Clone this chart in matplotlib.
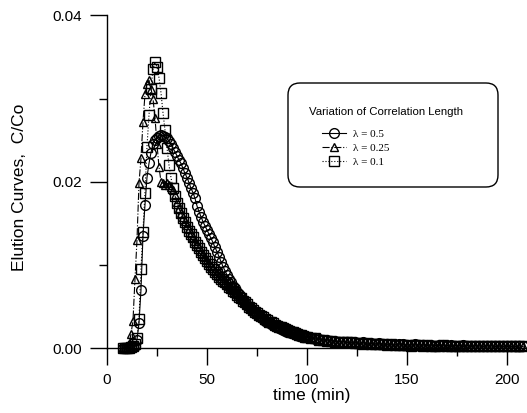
import matplotlib
matplotlib.use("Agg")
import matplotlib.pyplot as plt
from matplotlib.patches import FancyBboxPatch
from matplotlib.transforms import IdentityTransform

plt.rcParams['font.family'] = ['Liberation Sans', 'DejaVu Sans']

# sample times (min): 1 min steps up to 100, 2 min steps after
time_min = list(range(8, 101)) + list(range(102, 209, 2))

# lambda = 0.5 (circles)
conc_05 = [
    0.0, 0.0,
    0.0, 0.0, 0.0, 0.0001, 0.0003, 0.0010, 0.0030, 0.0070, 0.0135, 0.0172,
    0.0205, 0.0222, 0.0235, 0.0245, 0.0250, 0.0253, 0.0255, 0.0256, 0.0255, 0.0254,
    0.0252, 0.0249, 0.0245, 0.0240, 0.0236, 0.0231, 0.0226, 0.0222, 0.0216, 0.0210,
    0.0205,
    0.0199, 0.0192, 0.0187, 0.0180, 0.0171, 0.0164, 0.0158, 0.0152, 0.0147, 0.0142,
    0.0137, 0.0132, 0.0127, 0.0121, 0.0116, 0.0110, 0.0104, 0.0098, 0.0093, 0.0088,
    0.0083, 0.0079, 0.0075, 0.0072, 0.0068, 0.0065, 0.0061, 0.0058, 0.0055, 0.0052,
    0.0050, 0.0047, 0.0045, 0.0043, 0.0041, 0.0039, 0.0037, 0.0035, 0.0033, 0.0032,
    0.0031, 0.0029, 0.0028, 0.0027, 0.0025, 0.0024, 0.0023, 0.0022, 0.0021, 0.0020,
    0.0019, 0.0018, 0.0018, 0.0017, 0.0016, 0.0015, 0.0015, 0.0014, 0.0013, 0.0013,
    0.0012, 0.0011, 0.0011, 0.0010, 0.0010, 0.0009, 0.0009, 0.0008, 0.0008, 0.0007,
    0.0007, 0.0007, 0.0006, 0.0007, 0.0006, 0.0006, 0.0005, 0.0006, 0.0005, 0.0005,
    0.0005, 0.0004, 0.0005, 0.0005, 0.0004, 0.0004, 0.0005, 0.0004, 0.0004, 0.0004,
    0.0004, 0.0003, 0.0004, 0.0004, 0.0003, 0.0004, 0.0003, 0.0003, 0.0004, 0.0003,
    0.0003, 0.0003, 0.0003, 0.0002, 0.0003, 0.0003, 0.0002, 0.0003, 0.0002, 0.0003,
    0.0002, 0.0002, 0.0003, 0.0002,
]

# lambda = 0.25 (triangles)
conc_025 = [
    0.0, 0.0,
    0.0, 0.0005, 0.0017, 0.0033, 0.0083, 0.0130, 0.0198, 0.0228, 0.0272, 0.0305,
    0.0318, 0.0322, 0.0312, 0.0300, 0.0277, 0.0245, 0.0218, 0.0200, 0.0198, 0.0196,
    0.0198, 0.0196, 0.0194, 0.0190, 0.0184, 0.0176, 0.0168, 0.0163, 0.0158, 0.0153,
    0.0148,
    0.0143, 0.0138, 0.0133, 0.0129, 0.0125, 0.0121, 0.0117, 0.0113, 0.0109, 0.0106,
    0.0102, 0.0099, 0.0096, 0.0093, 0.0090, 0.0087, 0.0084, 0.0082, 0.0079, 0.0077,
    0.0075, 0.0073, 0.0070, 0.0068, 0.0065, 0.0063, 0.0060, 0.0058, 0.0055, 0.0053,
    0.0051, 0.0049, 0.0047, 0.0045, 0.0043, 0.0041, 0.0039, 0.0037, 0.0035, 0.0034,
    0.0032, 0.0031, 0.0030, 0.0029, 0.0027, 0.0026, 0.0025, 0.0024, 0.0023, 0.0022,
    0.0021, 0.0020, 0.0019, 0.0018, 0.0018, 0.0017, 0.0016, 0.0015, 0.0015, 0.0014,
    0.0013, 0.0012, 0.0011, 0.0010, 0.0010, 0.0009, 0.0008, 0.0008, 0.0008, 0.0007,
    0.0006, 0.0007, 0.0006, 0.0006, 0.0005, 0.0005, 0.0006, 0.0005, 0.0004, 0.0005,
    0.0004, 0.0004, 0.0005, 0.0004, 0.0003, 0.0004, 0.0004, 0.0003, 0.0004, 0.0003,
    0.0003, 0.0004, 0.0003, 0.0003, 0.0003, 0.0002, 0.0003, 0.0003, 0.0002, 0.0003,
    0.0002, 0.0003, 0.0002, 0.0002, 0.0003, 0.0002, 0.0002, 0.0002, 0.0003, 0.0002,
    0.0002, 0.0002, 0.0001, 0.0002,
]

# lambda = 0.1 (squares)
conc_01 = [
    0.0, 0.0,
    0.0, 0.0, 0.0001, 0.0002, 0.0005, 0.0012, 0.0035, 0.0095, 0.0140, 0.0187,
    0.0242, 0.0280, 0.0312, 0.0335, 0.0344, 0.0338, 0.0325, 0.0307, 0.0283, 0.0262,
    0.0240, 0.0220, 0.0205, 0.0192, 0.0183, 0.0175, 0.0168, 0.0162, 0.0156, 0.0151,
    0.0146,
    0.0141, 0.0137, 0.0133, 0.0128, 0.0124, 0.0120, 0.0116, 0.0112, 0.0108, 0.0105,
    0.0101, 0.0098, 0.0095, 0.0092, 0.0089, 0.0086, 0.0083, 0.0081, 0.0079, 0.0077,
    0.0074, 0.0072, 0.0069, 0.0067, 0.0064, 0.0062, 0.0060, 0.0057, 0.0055, 0.0053,
    0.0050, 0.0048, 0.0046, 0.0044, 0.0042, 0.0040, 0.0039, 0.0037, 0.0035, 0.0034,
    0.0032, 0.0031, 0.0030, 0.0028, 0.0027, 0.0026, 0.0025, 0.0024, 0.0023, 0.0022,
    0.0021, 0.0020, 0.0019, 0.0018, 0.0017, 0.0016, 0.0016, 0.0015, 0.0014, 0.0014,
    0.0012, 0.0012, 0.0010, 0.0010, 0.0009, 0.0009, 0.0008, 0.0007, 0.0008, 0.0007,
    0.0007, 0.0006, 0.0006, 0.0005, 0.0006, 0.0005, 0.0005, 0.0005, 0.0005, 0.0004,
    0.0005, 0.0004, 0.0004, 0.0004, 0.0004, 0.0003, 0.0004, 0.0004, 0.0003, 0.0004,
    0.0003, 0.0003, 0.0003, 0.0004, 0.0003, 0.0003, 0.0002, 0.0003, 0.0003, 0.0003,
    0.0002, 0.0003, 0.0003, 0.0002, 0.0002, 0.0003, 0.0002, 0.0002, 0.0002, 0.0002,
    0.0003, 0.0002, 0.0002, 0.0002,
]

labels = ['\u03bb = 0.5', '\u03bb = 0.25', '\u03bb = 0.1']

fig = plt.figure(figsize=(5.27, 4.13), dpi=100)
ax = fig.add_axes([0.203, 0.157, 0.797, 0.806])

common = dict(color='black', lw=0.8, mfc='none', mec='black', mew=1.0, clip_on=False)
l1, = ax.plot(time_min, conc_05, ls='-', marker='o', ms=7, **common)
l2, = ax.plot(time_min, conc_025, ls='-.', marker='^', ms=6, **common)
l3, = ax.plot(time_min, conc_01, ls=':', marker='s', ms=6.5, **common)

ax.set_xlim(0, 210)
ax.set_ylim(0, 0.04)
ax.set_xticks([0, 50, 100, 150, 200])
ax.set_xticks([25, 75, 125, 175], minor=True)
ax.set_yticks([0.0, 0.02, 0.04])
ax.set_yticklabels(['0.00', '0.02', '0.04'])
ax.set_yticks([0.01, 0.03], minor=True)
ax.tick_params(which='major', direction='out', length=12, width=1, labelsize=11, pad=6)
ax.tick_params(which='minor', direction='out', length=6, width=1)
for side in ['top', 'right']:
    ax.spines[side].set_visible(False)
for side in ['left', 'bottom']:
    ax.spines[side].set_linewidth(1.0)

ax.set_xlabel('time (min)', fontsize=12.5)
ax.set_ylabel('Elution Curves,  C/Co', fontsize=12.5)
ax.xaxis.set_label_coords(0.488, -0.12)
ax.yaxis.set_label_coords(-0.19, 0.483)

# legend box with rounded corners (pixel coords)
box = FancyBboxPatch((288, 226), 210, 104, boxstyle='round,pad=0,rounding_size=12',
                     transform=IdentityTransform(), fc='white', ec='black', lw=1.0)
fig.patches.append(box)
fig.text(309 / 527, 1 - 112 / 413, 'Variation of Correlation Length',
         ha='left', va='center', fontsize=8.2)
fig.legend([l1, l2, l3], labels, loc='upper left',
           bbox_to_anchor=(316 / 527, 1 - 124 / 413), frameon=False,
           borderpad=0, handlelength=2.2, handletextpad=0.6, labelspacing=0.35,
           numpoints=1, prop={'family': 'Liberation Serif', 'size': 8})

fig.savefig('out.png', dpi=100)
